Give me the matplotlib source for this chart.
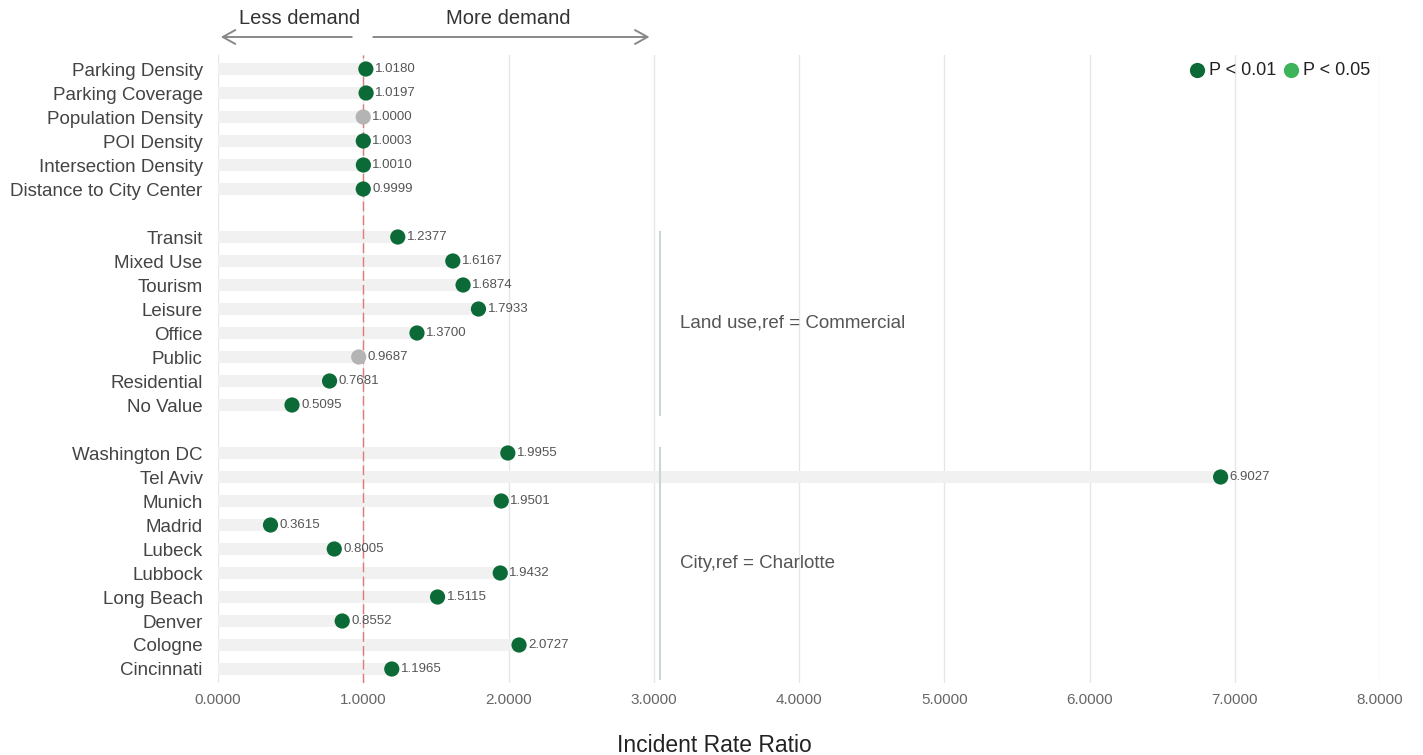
import matplotlib
matplotlib.use("Agg")
import matplotlib.pyplot as plt

plt.rcParams['font.family'] = ['Liberation Sans', 'DejaVu Sans']

# Datos del grafico
basic_labels = ['Parking Density', 'Parking Coverage', 'Population Density',
                'POI Density', 'Intersection Density', 'Distance to City Center']
basic_vals = [1.0180, 1.0197, 1.0000, 1.0003, 1.0010, 0.9999]
basic_sig = [True, True, False, True, True, True]

landuse_labels = ['Transit', 'Mixed Use', 'Tourism', 'Leisure', 'Office',
                  'Public', 'Residential', 'No Value']
landuse_vals = [1.2377, 1.6167, 1.6874, 1.7933, 1.3700, 0.9687, 0.7681, 0.5095]
landuse_sig = [True, True, True, True, True, False, True, True]

city_labels = ['Washington DC', 'Tel Aviv', 'Munich', 'Madrid', 'Lubeck',
               'Lubbock', 'Long Beach', 'Denver', 'Cologne', 'Cincinnati']
city_vals = [1.9955, 6.9027, 1.9501, 0.3615, 0.8005, 1.9432, 1.5115,
             0.8552, 2.0727, 1.1965]
city_sig = [True] * 10

xticks = [0, 1, 2, 3, 4, 5, 6, 7, 8]

DARK_GREEN = '#0b6a36'
LIGHT_GREEN = '#3db35a'
GRAY_DOT = '#b4b4b4'
BAR_GRAY = '#f1f1f1'
TEXT = '#444444'

# posiciones de filas con un hueco entre grupos
groups = [(basic_labels, basic_vals, basic_sig),
          (landuse_labels, landuse_vals, landuse_sig),
          (city_labels, city_vals, city_sig)]
labels, vals, sig, pos, spans = [], [], [], [], []
y = 0
for lab, v, s in groups:
    start = y
    for i in range(len(lab)):
        labels.append(lab[i])
        vals.append(v[i])
        sig.append(s[i])
        pos.append(y)
        y += 1
    spans.append((start, y - 1))
    y += 1

fig = plt.figure(figsize=(14.23, 7.55), dpi=100)
ax = fig.add_axes([218 / 1423, 1 - 683.4 / 755, (1380 - 218) / 1423, 628.8 / 755])

ax.barh(pos, vals, height=0.5, color=BAR_GRAY, zorder=1)
colors = [DARK_GREEN if s else GRAY_DOT for s in sig]
ax.scatter(vals, pos, s=120, color=colors, zorder=3, linewidths=0)
for v, p in zip(vals, pos):
    ax.annotate('%.4f' % v, (v, p), xytext=(6.5, 0), textcoords='offset points',
                ha='left', va='center', fontsize=9.5, color='#555555', zorder=4)

ax.axvline(1, color='#e07a7a', lw=1, ls=(0, (7, 3)), zorder=2)

ax.set_xlim(0, 8)
ax.set_ylim(pos[-1] + 0.6, -0.6)
ax.set_xticks(xticks)
ax.set_xticklabels(['%.4f' % t for t in xticks], fontsize=11, color='#666666')
ax.set_yticks(pos)
ax.set_yticklabels(labels, fontsize=13.5, color=TEXT)
ax.tick_params(length=0)
ax.tick_params(axis='y', pad=11)
ax.tick_params(axis='x', pad=7)
ax.grid(axis='x', color='#e6e6e6', lw=1, zorder=0)
ax.set_axisbelow(True)
for s in ax.spines.values():
    s.set_visible(False)
ax.set_xlabel('Incident Rate Ratio', fontsize=16.5, color='#222222')
ax.xaxis.set_label_coords(0.427, -0.08)

# flechas de demanda
tr = ax.get_xaxis_transform()
ax.annotate('', xy=(0, 1.028), xytext=(0.94, 1.028), xycoords=tr, textcoords=tr,
            arrowprops=dict(arrowstyle='->,head_length=0.9,head_width=0.5',
                            color='#888888', lw=1.4))
ax.annotate('', xy=(2.99, 1.028), xytext=(1.05, 1.028), xycoords=tr, textcoords=tr,
            arrowprops=dict(arrowstyle='->,head_length=0.9,head_width=0.5',
                            color='#888888', lw=1.4))
ax.text(0.56, 1.057, 'Less demand', transform=tr, ha='center', va='center',
        fontsize=14.5, color='#333333')
ax.text(2.0, 1.057, 'More demand', transform=tr, ha='center', va='center',
        fontsize=14.5, color='#333333')

# corchetes de grupos
for (a, b), txt, ty in zip(spans[1:], ['Land use,ref = Commercial', 'City,ref = Charlotte'],
                           [10.6, 20.6]):
    ax.plot([3.04, 3.04], [a - 0.2, b + 0.4], color='#c8d8d8', lw=1.5, zorder=2,
            clip_on=False)
    ax.text(3.18, ty, txt, ha='left', va='center', fontsize=13.5, color='#555555')

# leyenda
ax.scatter([6.74], [0.05], s=120, color=DARK_GREEN, linewidths=0, zorder=3)
ax.text(6.82, 0.05, 'P < 0.01', ha='left', va='center', fontsize=13, color='#222222')
ax.scatter([7.39], [0.05], s=120, color=LIGHT_GREEN, linewidths=0, zorder=3)
ax.text(7.47, 0.05, 'P < 0.05', ha='left', va='center', fontsize=13, color='#222222')

fig.savefig('out.png', dpi=100, facecolor='white')
